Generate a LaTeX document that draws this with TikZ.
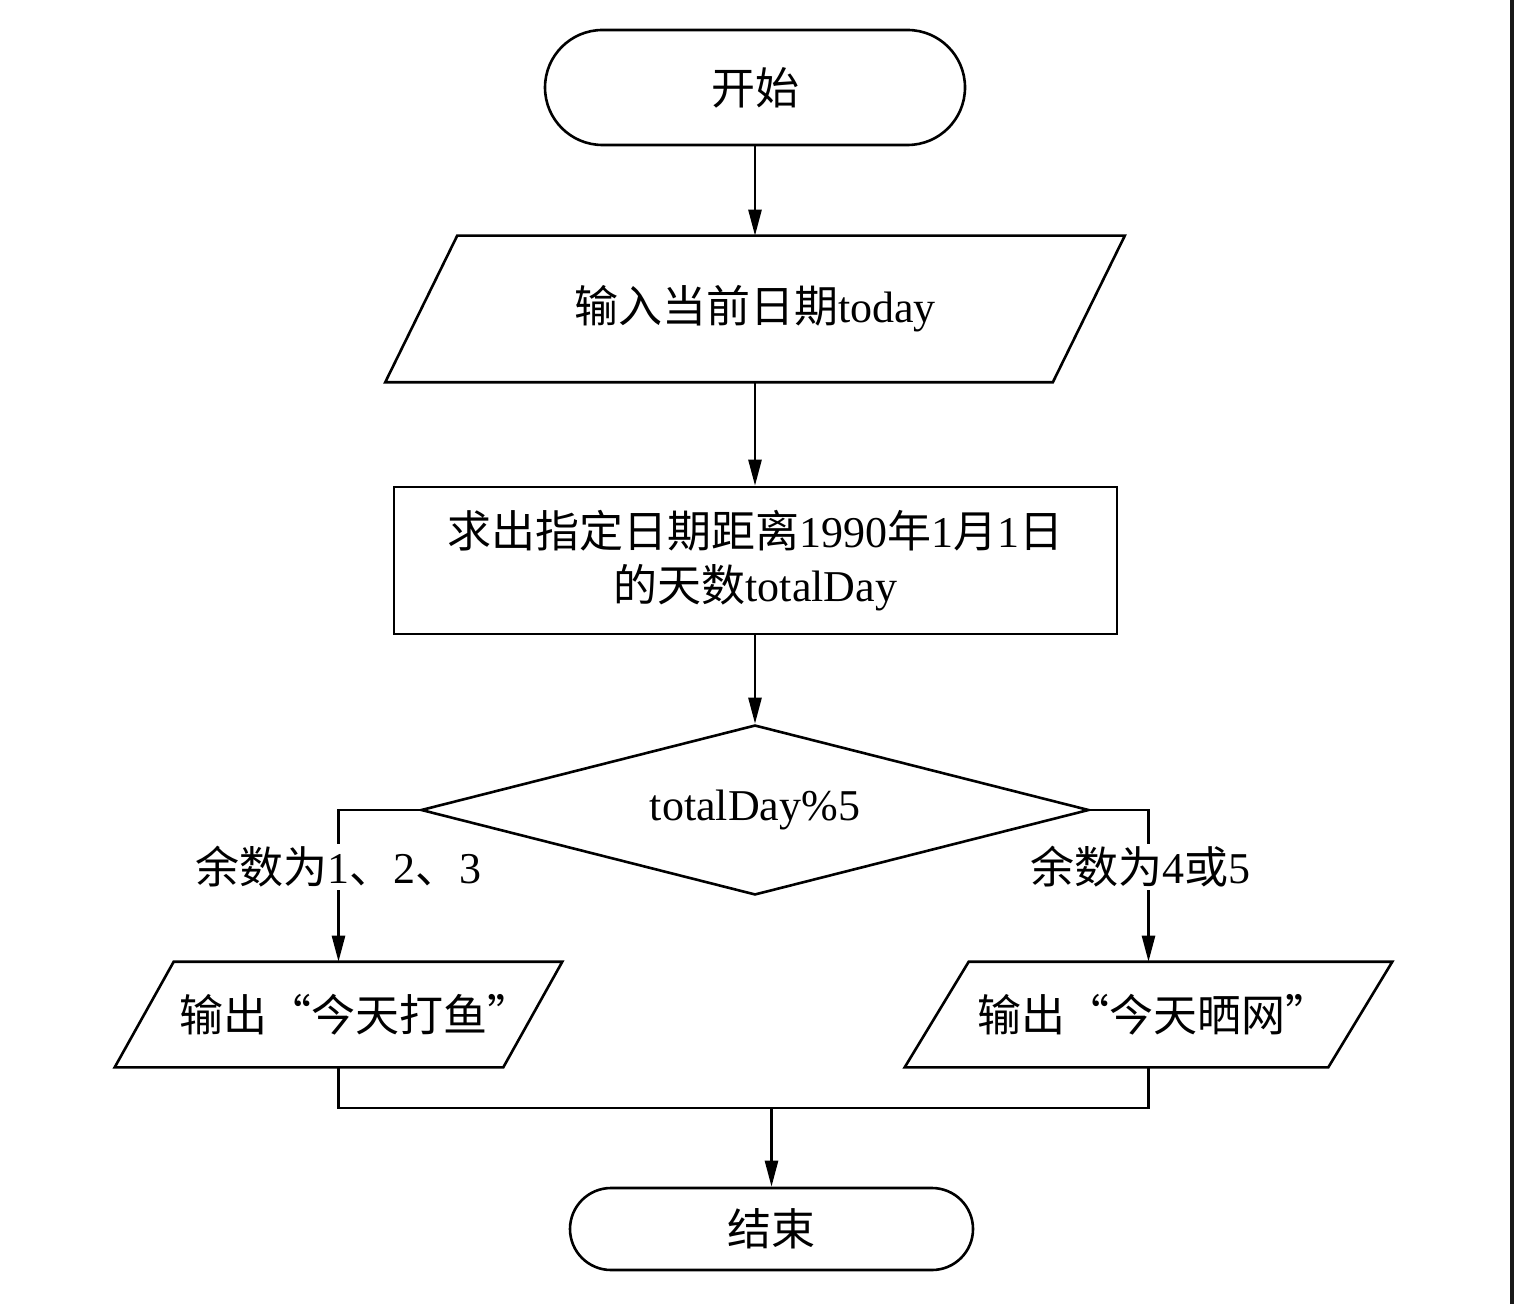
\documentclass[tikz,border=0pt]{standalone}
\usepackage{fontspec}
\setmainfont{Liberation Serif}
\newfontfamily\cjk{Noto Sans CJK SC}
\usetikzlibrary{arrows.meta,shapes.geometric,shapes.misc}
\newcommand\mypara[2]{\draw ([xshift=#2]#1.north west) -- (#1.north east) -- ([xshift=-#2]#1.south east) -- (#1.south west) -- cycle;}
\begin{document}
\begin{tikzpicture}[x=0.5pt,y=-0.5pt, line width=1.3pt,
  font=\fontsize{22}{27}\selectfont,
  term/.style={rounded rectangle, draw, inner sep=0pt},
  io/.style={rectangle, inner sep=0pt},
  proc/.style={rectangle, draw, inner sep=0pt, align=center},
  dec/.style={diamond, draw, inner sep=0pt, aspect=3.93},
  lab/.style={fill=white, inner sep=1pt},
  arr/.style={-{Triangle[length=13pt,width=6.5pt]}}]
\useasboundingbox (0,0) rectangle (1514,1304);
\fill[white] (0,0) rectangle (1514,1304);
\fill[black!90] (1510,0) rectangle (1514,1304);

\node[term, minimum width=210pt, minimum height=57.5pt] (start) at (755,87.5) {\cjk 开始};
\node[io, minimum width=368.5pt, minimum height=72pt] (in) at (755,309) {{\cjk 输入当前日期}today};
\mypara{in}{36pt}
\node[proc, minimum width=361.5pt, minimum height=73.5pt] (calc) at (755.5,560.5)
  {{\cjk 求出指定日期距离}1990{\cjk 年}1{\cjk 月}1{\cjk 日}\\{\cjk 的天数}totalDay};
\node[dec, minimum width=334pt, minimum height=85pt] (dec) at (755,810) {totalDay\%5};
\node[io, minimum width=222.5pt, minimum height=51.5pt] (outL) at (338.5,1014.5) {\hspace*{17pt}\cjk 输出“今天打鱼”};
\mypara{outL}{29.5pt}
\node[io, minimum width=242.5pt, minimum height=51.5pt] (outR) at (1148.5,1014.5) {\hspace*{5pt}\cjk 输出“今天晒网”};
\mypara{outR}{32pt}
\node[term, minimum width=201.5pt, minimum height=41pt] (end) at (771.5,1229) {\cjk 结束};

\draw[arr] (start.south) -- (in.north);
\draw[arr] (in.south) -- (in.south |- calc.north);
\draw[arr] (in.south |- calc.south) -- (dec.north);
\draw[arr] (dec.west) -| (outL.north);
\draw[arr] (dec.east) -| (outR.north);
\node[lab] (labL) at (338,867) {{\cjk 余数为}1{\cjk 、}2{\cjk 、}3};
\node[lab] (labR) at (1140,867) {{\cjk 余数为}4{\cjk 或}5};
\coordinate (mL) at (338.5,1108);
\coordinate (mR) at (1148.5,1108);
\coordinate (m) at (771.5,1108);
\draw (outL.south) -- (mL) -- (mR) -- (outR.south);
\draw[arr] (m) -- (end.north);
\end{tikzpicture}
\end{document}
